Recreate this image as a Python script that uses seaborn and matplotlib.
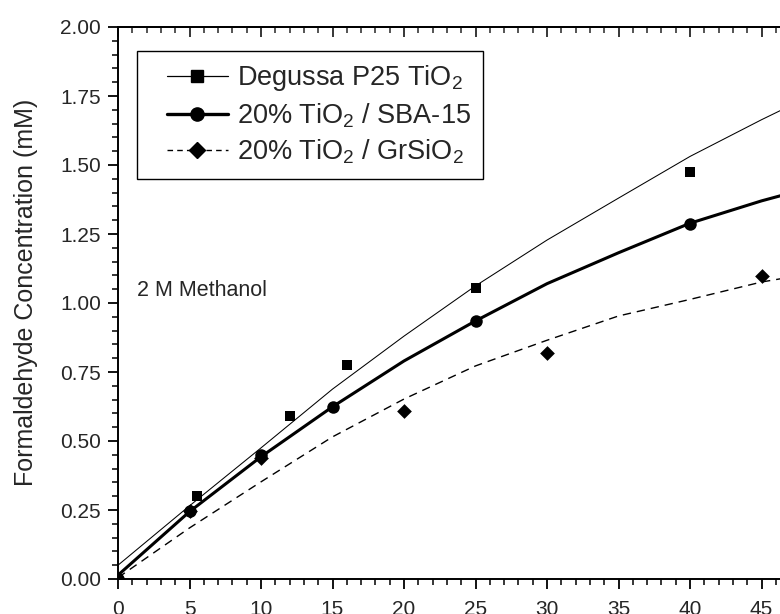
import matplotlib
matplotlib.use("Agg")
import pandas as pd
import matplotlib.pyplot as plt
from matplotlib.lines import Line2D
from matplotlib.legend_handler import HandlerLine2D
from matplotlib.ticker import MultipleLocator, FormatStrFormatter
import seaborn as sns

# measured points (time in min, concentration in mM)
p25_time = [0, 5.5, 12, 16, 25, 40]
p25_conc = [0.0, 0.30, 0.59, 0.775, 1.055, 1.475]
sba_time = [0, 5, 10, 15, 25, 40]
sba_conc = [0.0, 0.245, 0.45, 0.625, 0.935, 1.285]
grs_time = [0, 5, 10, 20, 30, 45]
grs_conc = [0.0, 0.245, 0.44, 0.61, 0.82, 1.098]

# fitted curves
fit_time = [0, 5, 10, 15, 20, 25, 30, 35, 40, 45, 50]
p25_fit = [0.05, 0.265, 0.475, 0.688, 0.88, 1.062, 1.228, 1.38, 1.531, 1.664, 1.79]
sba_fit = [0.014, 0.244, 0.443, 0.624, 0.79, 0.935, 1.07, 1.182, 1.289, 1.37, 1.44]
grs_fit = [0.005, 0.185, 0.352, 0.515, 0.652, 0.772, 0.865, 0.953, 1.013, 1.076, 1.12]

labels = ["Degussa P25 TiO$_2$", "20% TiO$_2$ / SBA-15", "20% TiO$_2$ / GrSiO$_2$"]


class PaddedHandler(HandlerLine2D):
    # leaves some empty room left of the legend line (Origin style)
    def __init__(self, shift, **kw):
        super().__init__(**kw)
        self.shift = shift

    def create_artists(self, legend, orig_handle, xdescent, ydescent, width, height, fontsize, trans):
        return super().create_artists(legend, orig_handle, xdescent - self.shift, ydescent,
                                      width - self.shift, height, fontsize, trans)


sns.set_theme(style="ticks")
plt.rcParams["font.family"] = ["Liberation Sans", "DejaVu Sans"]
plt.rcParams["mathtext.fontset"] = "custom"
plt.rcParams["mathtext.rm"] = "Liberation Sans"
plt.rcParams["mathtext.it"] = "Liberation Sans:italic"

fig = plt.figure(figsize=(7.8, 6.14), dpi=100)
ax = fig.add_axes([118 / 780, 35 / 614, 715 / 780, 552 / 614])

dash = (0, (6, 4.3))
sns.lineplot(x=fit_time, y=p25_fit, ax=ax, color="black", linewidth=0.75, sort=False, estimator=None)
sns.lineplot(x=fit_time, y=sba_fit, ax=ax, color="black", linewidth=2.2, sort=False, estimator=None)
sns.lineplot(x=fit_time, y=grs_fit, ax=ax, color="black", linewidth=1.0, linestyle=dash, sort=False, estimator=None)

sns.scatterplot(x=p25_time, y=p25_conc, ax=ax, marker="s", s=7.7 ** 2, color="black", linewidth=0, zorder=3)
sns.scatterplot(x=sba_time, y=sba_conc, ax=ax, marker="o", s=9.0 ** 2, color="black", linewidth=0, zorder=3)
sns.scatterplot(x=grs_time, y=grs_conc, ax=ax, marker="D", s=7.5 ** 2, color="black", linewidth=0, zorder=3)

ax.set_xlim(0, 50)
ax.set_ylim(0, 2)
ax.xaxis.set_major_locator(MultipleLocator(5))
ax.xaxis.set_minor_locator(MultipleLocator(1))
ax.yaxis.set_major_locator(MultipleLocator(0.25))
ax.yaxis.set_minor_locator(MultipleLocator(0.05))
ax.yaxis.set_major_formatter(FormatStrFormatter("%.2f"))

for sp in ax.spines.values():
    sp.set_visible(True)
    sp.set_linewidth(1.4)
    sp.set_color("black")

ax.tick_params(which="major", direction="out", length=7.2, width=1.3, labelsize=15, color="black")
ax.tick_params(which="minor", direction="out", length=4.0, width=1.1, color="black")
ax.tick_params(axis="y", which="major", pad=5)
ax.tick_params(axis="x", which="major", pad=8)

top = ax.secondary_xaxis("top")
top.xaxis.set_major_locator(MultipleLocator(5))
top.xaxis.set_minor_locator(MultipleLocator(1))
top.tick_params(which="major", direction="in", length=7.2, width=1.3, labeltop=False)
top.tick_params(which="minor", direction="in", length=4.3, width=1.1)
top.spines["top"].set_linewidth(1.4)

ax.set_xlabel("")
ax.set_ylabel("Formaldehyde Concentration (mM)", fontsize=18)
ax.yaxis.set_label_coords(-0.112, 0.52)

ax.text(19 / 715, (579 - 290) / 552, "2 M Methanol", transform=ax.transAxes,
        fontsize=15.5, ha="left", va="center")

handles = [
    Line2D([], [], color="black", lw=0.9, marker="s", ms=8.7),
    Line2D([], [], color="black", lw=2.4, marker="o", ms=9.5),
    Line2D([], [], color="black", lw=1.0, ls=(0, (4, 3)), marker="D", ms=8.5),
]
shift = 13
leg = ax.legend(handles, labels, loc="upper left", bbox_to_anchor=(19 / 715, 528 / 552),
                borderaxespad=0, frameon=True, fancybox=False, edgecolor="black",
                framealpha=1, fontsize=19.5, handlelength=2.9, handletextpad=0.33,
                labelspacing=0.3, borderpad=0.45,
                handler_map={h: PaddedHandler(shift) for h in handles})
leg.get_frame().set_linewidth(1.0)

fig.savefig("out.png", dpi=100)
